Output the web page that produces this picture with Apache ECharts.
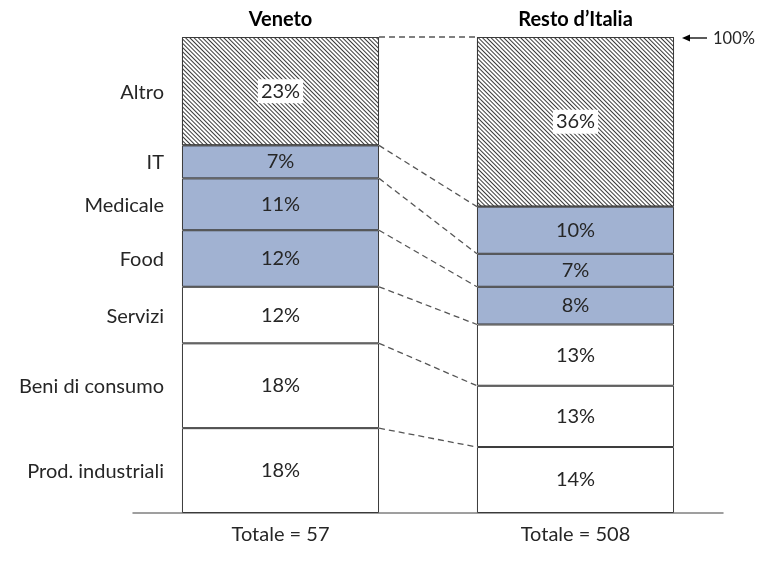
<!DOCTYPE html>
<html><head><meta charset="utf-8">
<script src="https://cdn.jsdelivr.net/npm/echarts@6/dist/echarts.min.js"></script>
<style>html,body{margin:0;padding:0;background:#fff}#c{width:768px;height:562px}</style>
</head><body><div id="c"></div>
<script>
const regions = ['Veneto', 'Resto d\u2019Italia'];
const totals = ['Totale = 57', 'Totale = 508'];
const sectors = ['Prod. industriali', 'Beni di consumo', 'Servizi', 'Food', 'Medicale', 'IT', 'Altro'];
const veneto = [18, 18, 12, 12, 11, 7, 23];
const resto = [14, 13, 13, 8, 7, 10, 36];
const fills = ['#ffffff', '#ffffff', '#ffffff', '#a1b2d2', '#a1b2d2', '#a1b2d2', 'hatch'];
const topLabel = '100%';

const FONT = 'Lato';
const TXT = '#262626';
const BAR_FRAC = 0.668;
const sum = a => a.reduce((s, v) => s + v, 0);
const maxV = Math.max(sum(veneto), sum(resto));

const barSeries = sectors.map((name, i) => {
  const hatch = fills[i] === 'hatch';
  const itemStyle = { color: hatch ? '#ffffff' : fills[i], borderColor: '#3a3a3a', borderWidth: 1 };
  if (hatch) itemStyle.decal = { symbol: 'rect', symbolSize: 1, dashArrayX: [[1, 0]], dashArrayY: [1, 2], rotation: Math.PI / 4, color: '#3a3a3a' };
  return {
    type: 'bar', name, stack: 's', barWidth: (BAR_FRAC * 100) + '%',
    xAxisIndex: 0, yAxisIndex: 0,
    data: [veneto[i], resto[i]],
    itemStyle,
    label: {
      show: true, position: 'inside', formatter: '{c}%', fontFamily: FONT, fontSize: 20, color: TXT,
      backgroundColor: hatch ? '#ffffff' : 'transparent', padding: hatch ? [3, 3, 1, 3] : 0
    },
    emphasis: { disabled: true }, animation: false
  };
});

const custom = {
  type: 'custom', coordinateSystem: 'cartesian2d', xAxisIndex: 0, yAxisIndex: 0,
  data: [[0, 0]], silent: true, z: 5, clip: false, animation: false,
  renderItem(params, api) {
    const band = api.size([1, 0])[0];
    const half = band * BAR_FRAC / 2;
    const children = [];
    let cv = 0, cr = 0;
    for (let i = 0; i < sectors.length; i++) {
      const v0 = cv;
      cv += veneto[i]; cr += resto[i];
      const pV = api.coord([0, cv]);
      const pR = api.coord([1, cr]);
      children.push({ type: 'line', shape: { x1: pV[0] + half, y1: pV[1], x2: pR[0] - half, y2: pR[1] },
        style: { stroke: '#555555', lineWidth: 1.3, lineDash: [6, 4] } });
      const mid = api.coord([0, v0 + veneto[i] / 2]);
      children.push({ type: 'text', x: pV[0] - half - 18, y: mid[1] + 1,
        style: { text: sectors[i], align: 'right', verticalAlign: 'middle', fontFamily: FONT, fontSize: 20, fill: TXT } });
    }
    const top = api.coord([1, cr]);
    const ax = top[0] + half;
    children.push({ type: 'line', shape: { x1: ax + 12, y1: top[1] + 1, x2: ax + 33, y2: top[1] + 1 },
      style: { stroke: '#000', lineWidth: 1.3 } });
    children.push({ type: 'polygon', shape: { points: [[ax + 8, top[1] + 1], [ax + 16, top[1] - 2.5], [ax + 16, top[1] + 4.5]] },
      style: { fill: '#000' } });
    children.push({ type: 'text', x: ax + 39, y: top[1] + 2,
      style: { text: topLabel, align: 'left', verticalAlign: 'middle', fontFamily: FONT, fontSize: 16.5, fill: TXT } });
    return { type: 'group', children };
  }
};

const chart = echarts.init(document.getElementById('c'), null, { renderer: 'canvas' });
chart.setOption({
  animation: false,
  grid: { left: 133, right: 45, top: 37, bottom: 49, containLabel: false, outerBoundsMode: 'none' },
  xAxis: [
    { type: 'category', data: totals, position: 'bottom',
      axisLine: { lineStyle: { color: '#808080', width: 1.5 } }, axisTick: { show: false },
      axisLabel: { fontFamily: FONT, fontSize: 20, color: TXT, margin: 12 } },
    { type: 'category', data: regions, position: 'top',
      axisLine: { show: false }, axisTick: { show: false },
      axisLabel: { fontFamily: FONT, fontSize: 20, fontWeight: 'bold', color: '#000', margin: 7 } }
  ],
  yAxis: { type: 'value', min: 0, max: maxV, show: false },
  series: [...barSeries, custom]
});
</script>
</body></html>
